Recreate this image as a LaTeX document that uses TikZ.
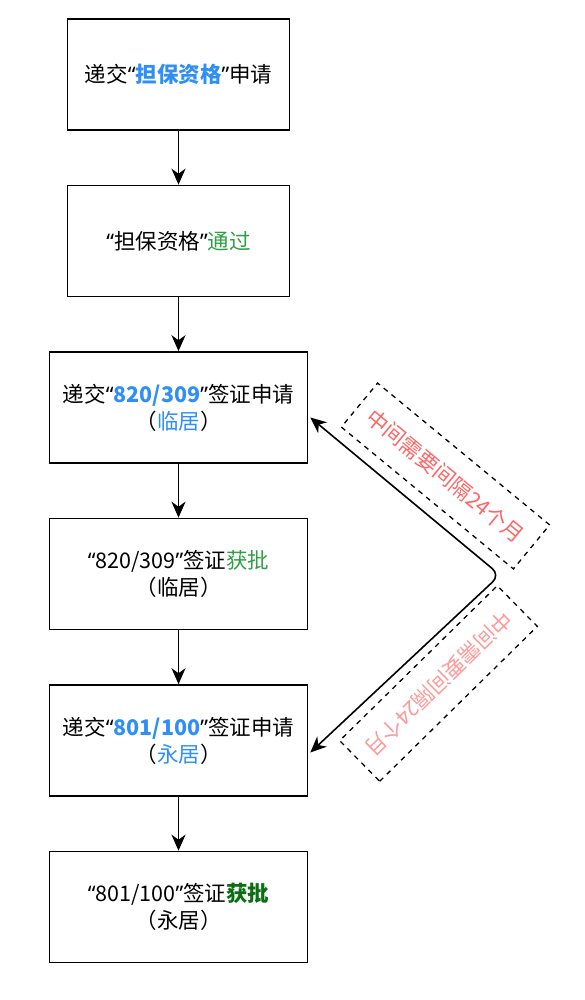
\documentclass[tikz,border=0pt]{standalone}
\usepackage{fontspec}
\setmainfont{Noto Sans CJK SC}
\newfontfamily\latinfont{Noto Sans}
\usepackage{xcolor}
\usetikzlibrary{arrows.meta}

\definecolor{qblue}{HTML}{2F8FF5}
\definecolor{qgreen}{HTML}{2EA043}
\definecolor{dgreen}{HTML}{0A6E12}
\definecolor{qred}{HTML}{FF6666}
\definecolor{pred}{HTML}{FF9999}

\newcommand{\qo}{{\latinfont “}}
\newcommand{\qc}{{\latinfont ”}}

\tikzset{
  stepbox/.style={draw, line width=1.6pt, minimum width=258pt, minimum height=111pt,
    inner sep=2pt, align=center, font=\fontsize{21.5}{27}\selectfont},
  smallbox/.style={stepbox, minimum width=222pt},
  gapnote/.style={draw, dashed, dash pattern=on 5pt off 5pt, line width=1.3pt,
    minimum height=57pt, inner sep=0pt, font=\fontsize{21.5}{24}\selectfont},
  tip/.style={-{Stealth[length=16pt, width=14pt, inset=5pt]}, line width=1.6pt},
  twotip/.style={{Stealth[length=16pt, width=14pt, inset=5pt]}-{Stealth[length=16pt, width=14pt, inset=5pt]}, line width=1.6pt}
}

\begin{document}
\begin{tikzpicture}[x=1pt, y=-1pt]
  \useasboundingbox (0,0) rectangle (585,1000);

  % Steps
  \node[smallbox] (s1) at (178.5,74.5) {递交\qo\textcolor{qblue}{\bfseries 担保资格}\qc 申请};
  \node[smallbox] (s2) at (178.5,241) {\qo 担保资格\qc\textcolor{qgreen}{通过}};
  \node[stepbox] (s3) at (178.5,407.5) {递交\qo\textcolor{qblue}{\bfseries 820/309}\qc 签证申请\\（\textcolor{qblue}{临居}）};
  \node[stepbox] (s4) at (178.5,574) {\qo 820/309\qc 签证\textcolor{qgreen}{获批}\\（临居）};
  \node[stepbox] (s5) at (178.5,740.5) {递交\qo\textcolor{qblue}{\bfseries 801/100}\qc 签证申请\\（\textcolor{qblue}{永居}）};
  \node[stepbox] (s6) at (178.5,907) {\qo 801/100\qc 签证\textcolor{dgreen}{\bfseries 获批}\\（永居）};

  % Arrows between steps
  \foreach \a/\b in {s1/s2, s2/s3, s3/s4, s4/s5, s5/s6}
    \draw[tip] (\a.south) -- (\b.north);

  % Gap between the two applications
  \coordinate (bend) at (500,575);
  \draw[twotip, rounded corners=10pt]
    ([xshift=2pt, yshift=-10pt]s3.east) -- (bend) -- ([xshift=2pt, yshift=-12pt]s5.east);

  % Notes
  \node[gapnote, minimum width=223pt, rotate=-39.5, text=qred] (n1) at (445.5,476) {中间需要间隔24个月};
  \node[gapnote, minimum width=221pt, rotate=224.5, text=pred] (n2) at (438.5,683.5) {中间需要间隔24个月};
\end{tikzpicture}
\end{document}
